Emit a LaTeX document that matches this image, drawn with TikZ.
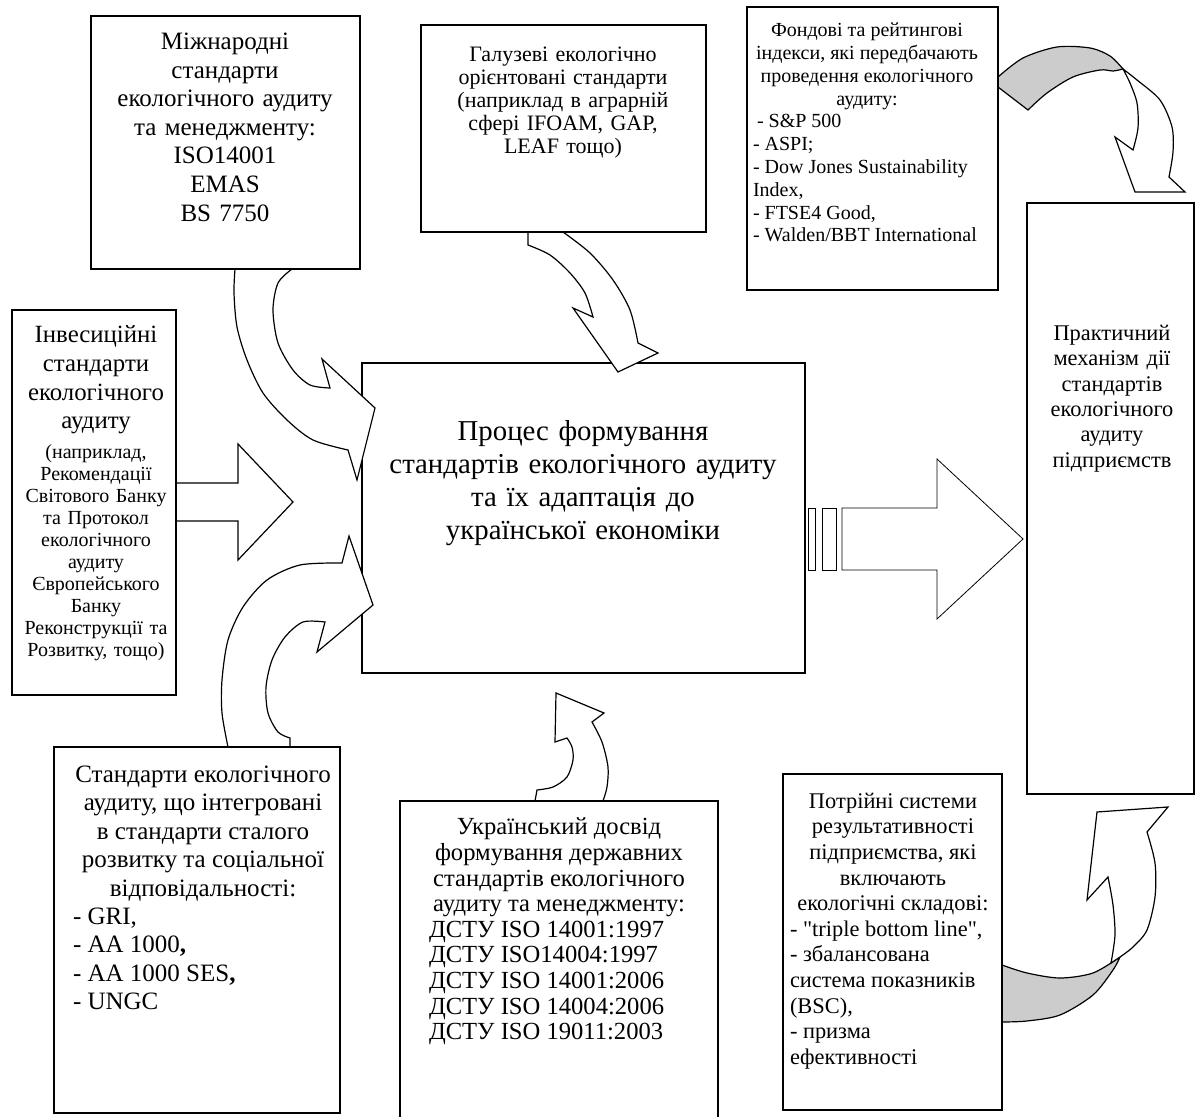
\documentclass[tikz,border=0pt]{standalone}
\usepackage{fontspec}
\setmainfont{Liberation Serif}
\newfontfamily\plainquote{Liberation Serif}[Ligatures=TeXOff]
\definecolor{bandgray}{RGB}{204,204,204}
\newcommand{\ctrline}[2]{\makebox[#1][c]{#2}}
\begin{document}
\begin{tikzpicture}[x=0.5pt,y=-0.5pt,
  frame/.style={draw=black,line width=0.6pt},
  thickframe/.style={draw=black,line width=1pt},
  blockarrow/.style={draw=black,fill=white,line width=0.6pt,line join=miter},
  thinarrow/.style={draw=black,fill=white,line width=0.4pt,line join=miter},
  band/.style={draw=black,fill=bandgray,line width=0.6pt,line join=miter},
  txt/.style={inner sep=0pt,outer sep=0pt}]

\useasboundingbox (0,0) rectangle (1195,1117);

% ---------- target boxes ----------
\draw[thickframe] (362,363) rectangle (805,673);
\draw[line width=0.9pt] (1027,203) rectangle (1194,794);

% ---------- block arrows ----------
% left straight arrow
\path[blockarrow] (176,483) -- (238,483) -- (238,444) -- (293,502) -- (238,560) -- (238,521) -- (176,521) -- cycle;

% big right arrow with stripes
\path[thinarrow] (808,508) rectangle (815,570);
\path[thinarrow] (822,508) rectangle (836,570);
\path[thinarrow] (842,508) -- (937,508) -- (937,459) -- (1023,539) -- (937,619) -- (937,570) -- (842,570) -- cycle;

% curved arrow from top-left box
\path[blockarrow] (235,269) -- plot[smooth] coordinates {(235,269) (234,293) (237,327) (247,360) (263,393) (287,420) (313,440) (348,450)}
  -- (357,480) -- (375,408) -- (322,359) -- (330,388)
  -- plot[smooth] coordinates {(330,388) (310,385) (293,370) (278,343) (273,310) (278,283) (292,269)} -- cycle;

% curved arrow from bottom-left box
\path[blockarrow] (228,747) -- plot[smooth] coordinates {(228,747) (222,713) (222,680) (228,640) (243,607) (267,580) (300,565) (342,563)}
  -- (349,536) -- (373,605) -- (317,652) -- (325,622)
  -- plot[smooth] coordinates {(325,622) (303,622) (285,637) (272,660) (266,687) (268,713) (278,732) (290,738)} -- (290,747) -- cycle;

% curved arrow from top-middle box
\path[blockarrow] (528,232) -- (528,245) -- plot[smooth] coordinates {(528,245) (550,255) (570,273) (585,293) (593,317)}
  -- (573,308) -- (618,372) -- (658,353) -- (638,343)
  -- plot[smooth] coordinates {(638,343) (630,310) (613,280) (590,253) (563,232)} -- cycle;

% curved arrow from bottom-middle box
\path[blockarrow] (535,801) -- (537,790) -- plot[smooth] coordinates {(537,790) (553,787) (567,777) (573,760) (572,747) (567,738)}
  -- (555,742) -- (556,693) -- (604,713) -- (592,722)
  -- plot[smooth] coordinates {(592,722) (602,742) (608,767) (607,787) (603,801)} -- cycle;

% twisted arrow top right
\path[band] (998,77) -- plot[smooth] coordinates {(998,77) (1023,58) (1057,47) (1090,48) (1110,56) (1123,69)}
  -- plot[smooth] coordinates {(1123,69) (1113,71) (1100,70) (1073,77) (1047,93) (1028,110)} -- (998,87) -- cycle;
\path[blockarrow] (1123,69) -- plot[smooth] coordinates {(1123,69) (1137,80) (1160,100) (1172,127) (1173,152) (1169,177)}
  -- (1185,192) -- (1135,192) -- (1115,137) -- (1133,150)
  -- plot[smooth] coordinates {(1133,150) (1138,128) (1137,103) (1130,83) (1123,69)} -- cycle;

% twisted arrow bottom right
\path[band] (1002,965) -- plot[smooth] coordinates {(1002,965) (1027,973) (1060,978) (1093,973) (1120,957)}
  -- plot[smooth] coordinates {(1120,957) (1113,970) (1093,995) (1060,1015) (1027,1021) (1002,1022)} -- cycle;
\path[blockarrow] (1120,957) -- plot[smooth] coordinates {(1120,957) (1133,947) (1147,930) (1155,897) (1155,863) (1147,832)}
  -- (1168,807) -- (1097,812) -- (1087,900) -- (1108,877)
  -- plot[smooth] coordinates {(1108,877) (1113,905) (1115,935) (1111,963)} -- cycle;

% ---------- source boxes ----------
\filldraw[frame,fill=white] (91,16) rectangle (360,269);
\filldraw[frame,fill=white] (421,25) rectangle (706,232);
\filldraw[frame,fill=white] (747,7) rectangle (998,290);
\filldraw[frame,fill=white] (12,310) rectangle (176,695);
\filldraw[frame,fill=white] (54,747) rectangle (340,1113);
\filldraw[frame,fill=white] (400,1117) -- (400,801) -- (718,801) -- (718,1117);
\filldraw[frame,fill=white] (783,774) rectangle (1002,1110);

% ---------- texts ----------
\node[txt,anchor=north,text width=130pt,align=center,font=\fontsize{12.5}{14.3}\selectfont] (t1) at (225,33)
  {Міжнародні\\стандарти\\екологічного аудиту\\та менеджменту:\\ISO14001\\EMAS\\BS 7750};

\node[txt,anchor=north,text width=135pt,align=center,font=\fontsize{11}{11.5}\selectfont] (t2) at (563,47)
  {Галузеві екологічно\\орієнтовані стандарти\\(наприклад в аграрній\\сфері IFOAM, GAP,\\LEAF тощо)};

\node[txt,anchor=north west,align=left,font=\fontsize{10}{11.4}\selectfont] (t3) at (753,23)
  {\ctrline{114pt}{Фондові та рейтингові}\\\ctrline{114pt}{індекси, які передбачають}\\\ctrline{114pt}{проведення екологічного}\\\ctrline{114pt}{аудиту:}\\\hspace*{2pt}- S\&P 500\\- ASPI;\\- Dow Jones Sustainability\\Index,\\- FTSE4 Good,\\- Walden/BBT International};

\node[txt,anchor=north,text width=86pt,align=center,font=\fontsize{12.4}{14.3}\selectfont] (t4a) at (96,326)
  {Інвесиційні\\стандарти\\екологічного\\аудиту};
\node[txt,anchor=north,text width=86pt,align=center,font=\fontsize{10}{11}\selectfont] (t4b) at (96,445)
  {(наприклад,\\Рекомендації\\Світового Банку\\та Протокол\\екологічного\\аудиту\\Європейського\\Банку\\Реконструкції та\\Розвитку, тощо)};

\node[txt,anchor=north,text width=215pt,align=center,font=\fontsize{14.4}{16.5}\selectfont] (t5) at (583,421)
  {Процес формування\\стандартів екологічного аудиту\\та їх адаптація до\\української економіки};

\node[txt,anchor=north,text width=80pt,align=center,font=\fontsize{11.2}{12.7}\selectfont] (t6) at (1112,325)
  {Практичний\\механізм дії\\стандартів\\екологічного\\аудиту\\підприємств};

\node[txt,anchor=north west,align=left,font=\fontsize{12.5}{14.2}\selectfont] (t7) at (73,766)
  {\ctrline{130pt}{Стандарти екологічного}\\\ctrline{130pt}{аудиту, що інтегровані}\\\ctrline{130pt}{в стандарти сталого}\\\ctrline{130pt}{розвитку та соціальної}\\\ctrline{130pt}{відповідальності:}\\- GRI,\\- AA 1000\textbf{,}\\- AA 1000 SES\textbf{,}\\- UNGC};

\node[txt,anchor=north west,align=left,font=\fontsize{12.3}{12.8}\selectfont] (t8) at (429,818)
  {\ctrline{130pt}{Український досвід}\\\ctrline{130pt}{формування державних}\\\ctrline{130pt}{стандартів екологічного}\\\ctrline{130pt}{аудиту та менеджменту:}\\ДСТУ ISO 14001:1997\\ДСТУ ISO14004:1997\\ДСТУ ISO 14001:2006\\ДСТУ ISO 14004:2006\\ДСТУ ISO 19011:2003};

\node[txt,anchor=north west,align=left,font=\fontsize{11.2}{12.8}\selectfont] (t9) at (790,793)
  {\ctrline{103pt}{Потрійні системи}\\\ctrline{103pt}{результативності}\\\ctrline{103pt}{підприємства, які}\\\ctrline{103pt}{включають}\\\ctrline{103pt}{екологічні складові:}\\- {\plainquote "}triple bottom line{\plainquote "},\\- збалансована\\система показників\\(BSC),\\- призма\\ефективності};
\end{tikzpicture}
\end{document}
